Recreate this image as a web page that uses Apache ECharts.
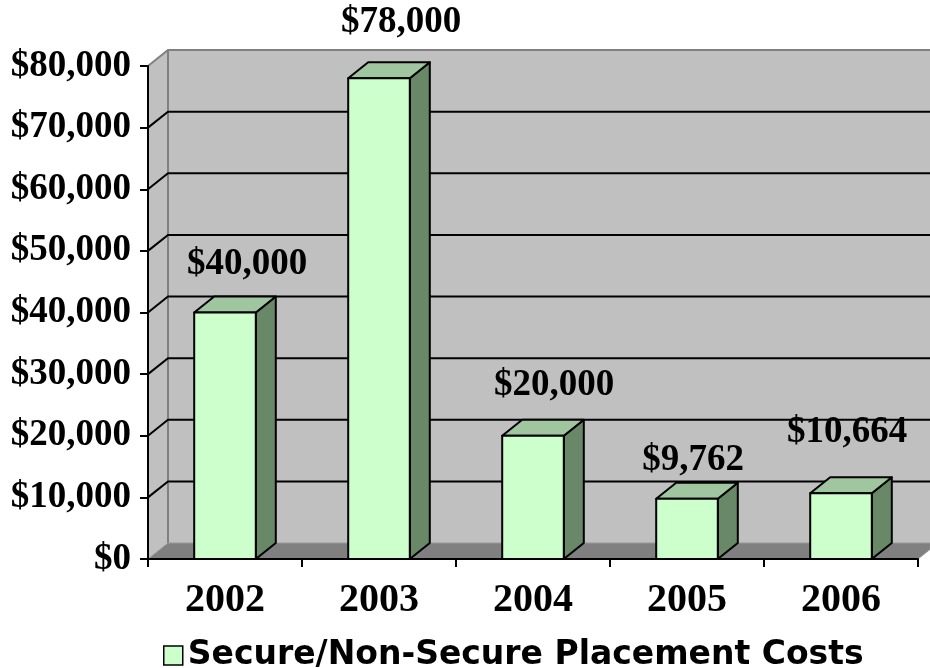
<!DOCTYPE html>
<html>
<head>
<meta charset="utf-8">
<script src="https://cdn.jsdelivr.net/npm/echarts@6/dist/echarts.min.js"></script>
<style>
  html, body { margin: 0; padding: 0; background: #fff; }
  #chart { width: 930px; height: 668px; }
</style>
</head>
<body>
<div id="chart"></div>
<script>
// Placement costs by year
const years = ['2002', '2003', '2004', '2005', '2006'];
const costs = [40000, 78000, 20000, 9762, 10664];
const yTicks = [0, 10000, 20000, 30000, 40000, 50000, 60000, 70000, 80000];
const seriesName = 'Secure/Non-Secure Placement Costs';

// 3-D depth of the plot box, in pixels
const DX = 20, DY = 16;
// value-label nudges relative to the front-top centre of each bar
const labelNudge = [[22, -48], [22, -56], [21, -50], [6, -38], [6, -61]];

const serif = '"Liberation Serif", "Times New Roman", serif';
const fmtMoney = v => '$' + Math.round(v).toLocaleString('en-US');

function renderWalls(params, api) {
  const cs = params.coordSys;
  const x0 = cs.x, x1 = cs.x + cs.width, yTop = cs.y, yBot = cs.y + cs.height;
  return {
    type: 'group',
    children: [
      { type: 'polygon', shape: { points: [[x0 + DX, yTop - DY], [x1 + DX + 40, yTop - DY], [x1 + DX + 40, yBot - DY], [x0 + DX, yBot - DY]] },
        style: { fill: '#c0c0c0' } },
      { type: 'polygon', shape: { points: [[x0, yTop], [x0 + DX, yTop - DY], [x0 + DX, yBot - DY], [x0, yBot]] },
        style: { fill: '#c0c0c0' } },
      { type: 'polygon', shape: { points: [[x0, yBot], [x0 + DX, yBot - DY], [x1 + DX, yBot - DY], [x1, yBot]] },
        style: { fill: '#808080' } },
      { type: 'polyline', shape: { points: [[x0, yTop], [x0 + DX, yTop - DY], [x1 + DX + 40, yTop - DY]] },
        style: { stroke: '#808080', lineWidth: 2, fill: null } },
      { type: 'line', shape: { x1: x0 + DX, y1: yTop - DY, x2: x0 + DX, y2: yBot - DY },
        style: { stroke: '#808080', lineWidth: 2 } },
      { type: 'polyline', shape: { points: [[x0, yBot], [x0 + DX, yBot - DY], [x1 + DX, yBot - DY], [x1, yBot]] },
        style: { stroke: '#9a9a9a', lineWidth: 1, fill: null } }
    ]
  };
}

function renderGrid(params, api) {
  const cs = params.coordSys;
  const v = api.value(1);
  if (v <= yTicks[0] || v >= yTicks[yTicks.length - 1]) return { type: 'group', children: [] };
  const y = api.coord([0, v])[1];
  return {
    type: 'polyline',
    shape: { points: [[cs.x, y], [cs.x + DX, y - DY], [cs.x + cs.width + DX + 40, y - DY]] },
    style: { stroke: '#000', lineWidth: 2, fill: null }
  };
}

function renderBar(params, api) {
  const i = api.value(0), v = api.value(1);
  const top = api.coord([i, v]);
  const base = api.coord([i, 0]);
  const w = api.size([1, 0])[0] * 0.4;
  const xa = top[0] - w / 2, xb = top[0] + w / 2;
  const yT = top[1], yB = base[1];
  const edge = { stroke: '#000', lineWidth: 2, lineJoin: 'round' };
  const nudge = labelNudge[i];
  return {
    type: 'group',
    children: [
      { type: 'polygon', shape: { points: [[xb, yT], [xb + DX, yT - DY], [xb + DX, yB - DY], [xb, yB]] },
        style: Object.assign({ fill: '#688868' }, edge) },
      { type: 'polygon', shape: { points: [[xa, yT], [xa + DX, yT - DY], [xb + DX, yT - DY], [xb, yT]] },
        style: Object.assign({ fill: '#9fc69f' }, edge) },
      { type: 'rect', shape: { x: xa, y: yT, width: w, height: yB - yT },
        style: Object.assign({ fill: '#ccffcc' }, edge) },
      { type: 'text', style: { text: fmtMoney(v), x: top[0] + nudge[0], y: yT + nudge[1],
          align: 'center', verticalAlign: 'middle', fill: '#000', font: 'bold 37px ' + serif } }
    ]
  };
}

const chart = echarts.init(document.getElementById('chart'), null, { renderer: 'canvas' });
chart.setOption({
  animation: false,
  backgroundColor: '#ffffff',
  grid: { left: 148, right: 12, top: 66, bottom: 109 },
  legend: {
    data: [{ name: seriesName, icon: 'rect',
      itemStyle: { color: '#ccffcc', borderColor: '#000', borderWidth: 1.5 } }],
    left: 163, top: 639, padding: 0, itemWidth: 19, itemHeight: 19, itemGap: 5,
    textStyle: { fontFamily: '"DejaVu Sans", sans-serif', fontWeight: 'bold', fontSize: 33,
      lineHeight: 30, color: '#000' }
  },
  xAxis: {
    type: 'category', data: years, z: 10,
    axisLine: { lineStyle: { color: '#000', width: 2 } },
    axisTick: { show: true, length: 8, lineStyle: { color: '#000', width: 2 } },
    axisLabel: { margin: 22, color: '#000', fontFamily: serif, fontWeight: 'bold', fontSize: 40 }
  },
  yAxis: {
    type: 'value', min: yTicks[0], max: yTicks[yTicks.length - 1], interval: yTicks[1] - yTicks[0], z: 10,
    axisLine: { show: true, lineStyle: { color: '#000', width: 2 } },
    axisTick: { show: true, length: 8, lineStyle: { color: '#000', width: 2 } },
    splitLine: { show: false },
    axisLabel: { margin: 17, color: '#000', fontFamily: serif, fontWeight: 'bold', fontSize: 37,
      formatter: fmtMoney }
  },
  series: [
    { type: 'custom', name: 'walls', silent: true, z: 1, renderItem: renderWalls, data: [[0, 0]] },
    { type: 'custom', name: 'gridlines', silent: true, z: 1.5, renderItem: renderGrid,
      data: yTicks.map(v => [0, v]) },
    { type: 'custom', name: seriesName, z: 3, renderItem: renderBar,
      itemStyle: { color: '#ccffcc', borderColor: '#000', borderWidth: 1.5 },
      data: years.map((y, i) => [i, costs[i]]) }
  ]
});
</script>
</body>
</html>
